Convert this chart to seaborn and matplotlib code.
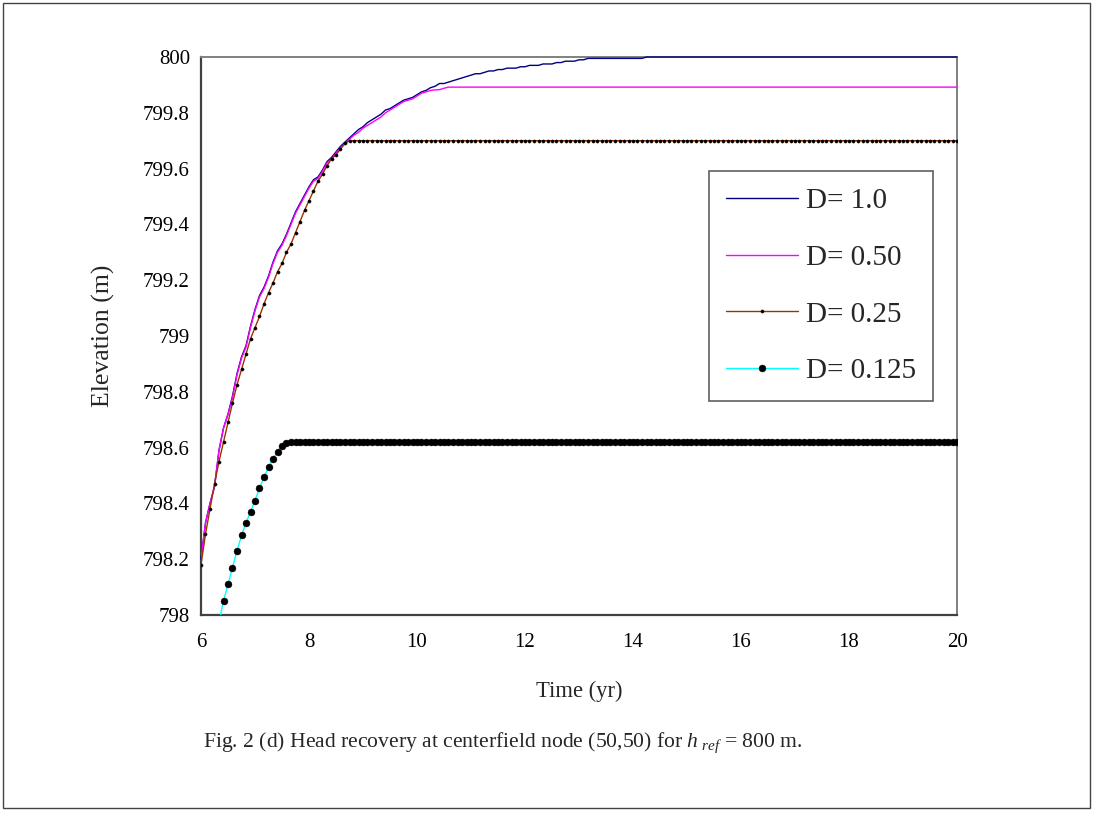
import numpy as np
import pandas as pd
import matplotlib
matplotlib.use("Agg")
import matplotlib.pyplot as plt
from matplotlib.patches import Rectangle
import seaborn as sns

nan = np.nan

# monthly time steps from 6 to 20 years
TIME = np.round(6 + np.arange(169) / 12.0, 4)

D_1_0 = [
    798.20, 798.33, 798.40, 798.46, 798.59, 798.67, 798.72, 798.785, 798.865, 798.925, 798.965, 799.035,
    799.095, 799.145, 799.175, 799.215, 799.265, 799.305, 799.33, 799.365, 799.405, 799.445, 799.475, 799.505,
    799.535, 799.56, 799.57, 799.595, 799.625, 799.64, 799.66, 799.68, 799.695, 799.71, 799.725, 799.74,
    799.75, 799.765, 799.775, 799.785, 799.795, 799.81, 799.815, 799.825, 799.835, 799.845, 799.85, 799.855,
    799.865, 799.875, 799.88, 799.89, 799.895, 799.905, 799.905, 799.91, 799.915, 799.92, 799.925, 799.93,
    799.935, 799.94, 799.94, 799.945, 799.95, 799.95, 799.955, 799.955, 799.96, 799.96, 799.96, 799.965,
    799.965, 799.97, 799.97, 799.97, 799.975, 799.975, 799.975, 799.98, 799.98, 799.985, 799.985, 799.985,
    799.99, 799.99, 799.995, 799.995, 799.995, 799.995, 799.995, 799.995, 799.995, 799.995, 799.995, 799.995,
    799.995, 799.995, 799.995, 800.0, 800.0, 800.0, 800.0, 800.0, 800.0, 800.0, 800.0, 800.0,
    800.0, 800.0, 800.0, 800.0, 800.0, 800.0, 800.0, 800.0, 800.0, 800.0, 800.0, 800.0,
    800.0, 800.0, 800.0, 800.0, 800.0, 800.0, 800.0, 800.0, 800.0, 800.0, 800.0, 800.0,
    800.0, 800.0, 800.0, 800.0, 800.0, 800.0, 800.0, 800.0, 800.0, 800.0, 800.0, 800.0,
    800.0, 800.0, 800.0, 800.0, 800.0, 800.0, 800.0, 800.0, 800.0, 800.0, 800.0, 800.0,
    800.0, 800.0, 800.0, 800.0, 800.0, 800.0, 800.0, 800.0, 800.0, 800.0, 800.0, 800.0,
    800.0,
]

D_0_50 = [
    798.20, 798.33, 798.40, 798.46, 798.59, 798.67, 798.72, 798.78, 798.86, 798.92, 798.96, 799.03,
    799.09, 799.14, 799.17, 799.21, 799.26, 799.30, 799.325, 799.36, 799.40, 799.44, 799.47, 799.50,
    799.53, 799.555, 799.565, 799.59, 799.62, 799.635, 799.655, 799.675, 799.69, 799.705, 799.72, 799.73,
    799.745, 799.755, 799.765, 799.775, 799.785, 799.80, 799.81, 799.82, 799.83, 799.84, 799.845, 799.85,
    799.86, 799.87, 799.875, 799.88, 799.882, 799.883, 799.888, 799.892, 799.892, 799.892, 799.892, 799.892,
    799.892, 799.892, 799.892, 799.892, 799.892, 799.892, 799.892, 799.892, 799.892, 799.892, 799.892, 799.892,
    799.892, 799.892, 799.892, 799.892, 799.892, 799.892, 799.892, 799.892, 799.892, 799.892, 799.892, 799.892,
    799.892, 799.892, 799.892, 799.892, 799.892, 799.892, 799.892, 799.892, 799.892, 799.892, 799.892, 799.892,
    799.892, 799.892, 799.892, 799.892, 799.892, 799.892, 799.892, 799.892, 799.892, 799.892, 799.892, 799.892,
    799.892, 799.892, 799.892, 799.892, 799.892, 799.892, 799.892, 799.892, 799.892, 799.892, 799.892, 799.892,
    799.892, 799.892, 799.892, 799.892, 799.892, 799.892, 799.892, 799.892, 799.892, 799.892, 799.892, 799.892,
    799.892, 799.892, 799.892, 799.892, 799.892, 799.892, 799.892, 799.892, 799.892, 799.892, 799.892, 799.892,
    799.892, 799.892, 799.892, 799.892, 799.892, 799.892, 799.892, 799.892, 799.892, 799.892, 799.892, 799.892,
    799.892, 799.892, 799.892, 799.892, 799.892, 799.892, 799.892, 799.892, 799.892, 799.892, 799.892, 799.892,
    799.892,
]

D_0_25 = [
    798.18, 798.29, 798.38, 798.47, 798.55, 798.62, 798.69, 798.76, 798.825, 798.88, 798.935, 798.99,
    799.03, 799.07, 799.115, 799.155, 799.19, 799.23, 799.26, 799.30, 799.33, 799.37, 799.41, 799.45,
    799.485, 799.52, 799.555, 799.58, 799.61, 799.635, 799.65, 799.67, 799.69, 799.70, 799.70, 799.70,
    799.70, 799.70, 799.70, 799.70, 799.70, 799.70, 799.70, 799.70, 799.70, 799.70, 799.70, 799.70,
    799.70, 799.70, 799.70, 799.70, 799.70, 799.70, 799.70, 799.70, 799.70, 799.70, 799.70, 799.70,
    799.70, 799.70, 799.70, 799.70, 799.70, 799.70, 799.70, 799.70, 799.70, 799.70, 799.70, 799.70,
    799.70, 799.70, 799.70, 799.70, 799.70, 799.70, 799.70, 799.70, 799.70, 799.70, 799.70, 799.70,
    799.70, 799.70, 799.70, 799.70, 799.70, 799.70, 799.70, 799.70, 799.70, 799.70, 799.70, 799.70,
    799.70, 799.70, 799.70, 799.70, 799.70, 799.70, 799.70, 799.70, 799.70, 799.70, 799.70, 799.70,
    799.70, 799.70, 799.70, 799.70, 799.70, 799.70, 799.70, 799.70, 799.70, 799.70, 799.70, 799.70,
    799.70, 799.70, 799.70, 799.70, 799.70, 799.70, 799.70, 799.70, 799.70, 799.70, 799.70, 799.70,
    799.70, 799.70, 799.70, 799.70, 799.70, 799.70, 799.70, 799.70, 799.70, 799.70, 799.70, 799.70,
    799.70, 799.70, 799.70, 799.70, 799.70, 799.70, 799.70, 799.70, 799.70, 799.70, 799.70, 799.70,
    799.70, 799.70, 799.70, 799.70, 799.70, 799.70, 799.70, 799.70, 799.70, 799.70, 799.70, 799.70,
    799.70,
]

D_0_125 = [
    nan, nan, nan, nan, 797.975, 798.05, 798.11, 798.17, 798.23, 798.285, 798.33, 798.37,
    798.41, 798.455, 798.495, 798.53, 798.56, 798.585, 798.605, 798.615, 798.62, 798.62, 798.62, 798.62,
    798.62, 798.62, 798.62, 798.62, 798.62, 798.62, 798.62, 798.62, 798.62, 798.62, 798.62, 798.62,
    798.62, 798.62, 798.62, 798.62, 798.62, 798.62, 798.62, 798.62, 798.62, 798.62, 798.62, 798.62,
    798.62, 798.62, 798.62, 798.62, 798.62, 798.62, 798.62, 798.62, 798.62, 798.62, 798.62, 798.62,
    798.62, 798.62, 798.62, 798.62, 798.62, 798.62, 798.62, 798.62, 798.62, 798.62, 798.62, 798.62,
    798.62, 798.62, 798.62, 798.62, 798.62, 798.62, 798.62, 798.62, 798.62, 798.62, 798.62, 798.62,
    798.62, 798.62, 798.62, 798.62, 798.62, 798.62, 798.62, 798.62, 798.62, 798.62, 798.62, 798.62,
    798.62, 798.62, 798.62, 798.62, 798.62, 798.62, 798.62, 798.62, 798.62, 798.62, 798.62, 798.62,
    798.62, 798.62, 798.62, 798.62, 798.62, 798.62, 798.62, 798.62, 798.62, 798.62, 798.62, 798.62,
    798.62, 798.62, 798.62, 798.62, 798.62, 798.62, 798.62, 798.62, 798.62, 798.62, 798.62, 798.62,
    798.62, 798.62, 798.62, 798.62, 798.62, 798.62, 798.62, 798.62, 798.62, 798.62, 798.62, 798.62,
    798.62, 798.62, 798.62, 798.62, 798.62, 798.62, 798.62, 798.62, 798.62, 798.62, 798.62, 798.62,
    798.62, 798.62, 798.62, 798.62, 798.62, 798.62, 798.62, 798.62, 798.62, 798.62, 798.62, 798.62,
    798.62,
]

LABELS = ["D= 1.0", "D= 0.50", "D= 0.25", "D= 0.125"]
X_TICKS = [6, 8, 10, 12, 14, 16, 18, 20]
Y_TICKS = [798.0, 798.2, 798.4, 798.6, 798.8, 799.0, 799.2, 799.4, 799.6, 799.8, 800.0]
Y_TICK_LABELS = ["798", "798.2", "798.4", "798.6", "798.8", "799",
                 "799.2", "799.4", "799.6", "799.8", "800"]

sns.set_style("white")
plt.rcParams["font.family"] = ["Liberation Serif", "DejaVu Serif"]
plt.rcParams["mathtext.fontset"] = "custom"
plt.rcParams["mathtext.rm"] = "Liberation Serif"
plt.rcParams["mathtext.it"] = "Liberation Serif:italic"

fig = plt.figure(figsize=(10.93, 8.13), dpi=100)
ax = fig.add_axes([201 / 1093, 1 - 615 / 813, 756 / 1093, 558 / 813])

styles = [
    dict(color="#000080", lw=1.0, clip_on=False, zorder=3),
    dict(color="#FF00FF", lw=1.0, zorder=3),
    dict(color="#993300", lw=1.0, marker="o", markersize=2.3, zorder=3,
         markerfacecolor="black", markeredgecolor="black", markeredgewidth=0.3),
    dict(color="#00FFFF", lw=1.0, marker="o", markersize=5.0, zorder=3,
         markerfacecolor="black", markeredgecolor="black", markeredgewidth=0.3),
]
series = [D_1_0, D_0_50, D_0_25, D_0_125]
for vals, lab, st in zip(series, LABELS, styles):
    df = pd.DataFrame({"t": TIME, "h": vals})
    sns.lineplot(data=df, x="t", y="h", ax=ax, label=lab, estimator=None,
                 sort=False, **st)

ax.set_xlim(6, 20)
ax.set_ylim(798, 800)
ax.set_xticks(X_TICKS)
ax.set_xticklabels([str(v) for v in X_TICKS])
ax.set_yticks(Y_TICKS)
ax.set_yticklabels(Y_TICK_LABELS)

for side in ["left", "bottom"]:
    ax.spines[side].set_color("#404040")
    ax.spines[side].set_linewidth(1.6)
for side in ["top", "right"]:
    ax.spines[side].set_color("#808080")
    ax.spines[side].set_linewidth(1.4)

ax.tick_params(axis="both", direction="out", length=5, width=1.0,
               color="#404040", labelsize=15, labelcolor="black")
ax.tick_params(axis="y", pad=3)
ax.tick_params(axis="x", pad=8)

ax.set_xlabel("Time (yr)", fontsize=16.3, labelpad=21)
ax.set_ylabel("Elevation (m)", fontsize=18.5, labelpad=20)

leg = ax.legend(loc="upper right", bbox_to_anchor=(0.968, 0.796),
                fontsize=21, frameon=True, fancybox=False, handlelength=2.45,
                handletextpad=0.28, labelspacing=1.04, borderpad=0.58,
                borderaxespad=0.0)
leg.get_frame().set_edgecolor("#606060")
leg.get_frame().set_linewidth(1.2)
leg.get_frame().set_alpha(1.0)
for line in leg.get_lines():
    line.set_linewidth(1.0)

fig.text(0.46, 0.087,
         r"Fig. 2 (d) Head recovery at centerfield node (50,50) for $h_{\ ref}$ = 800 m.",
         ha="center", va="center", fontsize=15.6)

fig.patches.append(Rectangle((0.003, 0.006), 0.994, 0.99, transform=fig.transFigure,
                             fill=False, edgecolor="#444444", lw=1.0))

fig.savefig("out.png", dpi=100)
